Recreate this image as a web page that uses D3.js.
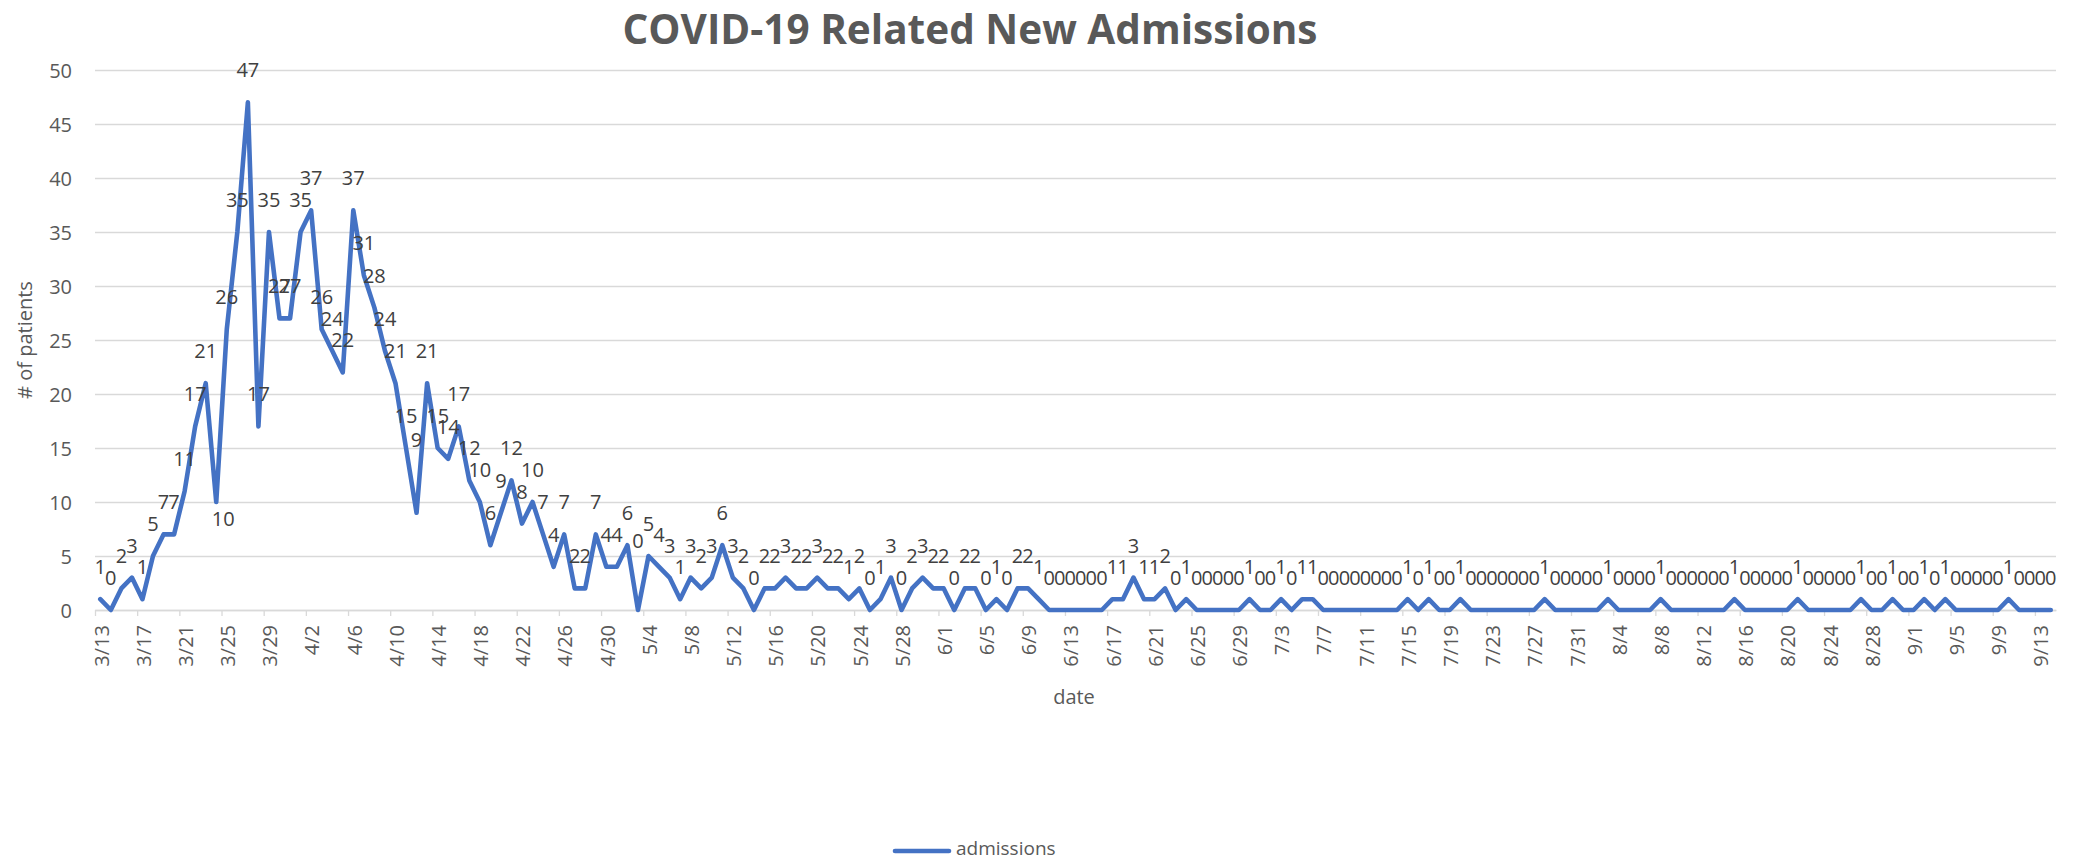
<!DOCTYPE html>
<html>
<head>
<meta charset="utf-8">
<script src="https://cdn.jsdelivr.net/npm/d3@7"></script>
<style>
body { margin: 0; background: #fff; }
text { font-family: "Open Sans", sans-serif; }
</style>
</head>
<body>
<div id="chart"></div>
<script>
// admissions per day, one array per month
const march = [1, 0, 2, 3, 1, 5, 7, 7, 11, 17, 21, 10, 26, 35, 47, 17, 35, 27, 27];
const april = [35, 37, 26, 24, 22, 37, 31, 28, 24, 21, 15, 9, 21, 15, 14, 17, 12, 10, 6, 9,
  12, 8, 10, 7, 4, 7, 2, 2, 7, 4];
const may = [4, 6, 0, 5, 4, 3, 1, 3, 2, 3, 6, 3, 2, 0, 2, 2, 3, 2, 2, 3,
  2, 2, 1, 2, 0, 1, 3, 0, 2, 3, 2];
const june = [2, 0, 2, 2, 0, 1, 0, 2, 2, 1, 0, 0, 0, 0, 0, 0, 1, 1, 3, 1,
  1, 2, 0, 1, 0, 0, 0, 0, 0, 1];
const july = [0, 0, 1, 0, 1, 1, 0, 0, 0, 0, 0, 0, 0, 0, 1, 0, 1, 0, 0, 1,
  0, 0, 0, 0, 0, 0, 0, 1, 0, 0, 0];
const august = [0, 0, 1, 0, 0, 0, 0, 1, 0, 0, 0, 0, 0, 0, 1, 0, 0, 0, 0, 0,
  1, 0, 0, 0, 0, 0, 1, 0, 0, 1, 0];
const september = [0, 1, 0, 1, 0, 0, 0, 0, 0, 1, 0, 0, 0, 0];

const firstDay = "2020-03-13";
const endDay = "2020-09-15"; // axis ends after the last day (9/14)

const tickLabels = ["3/13", "3/17", "3/21", "3/25", "3/29", "4/2", "4/6", "4/10", "4/14",
  "4/18", "4/22", "4/26", "4/30", "5/4", "5/8", "5/12", "5/16", "5/20", "5/24", "5/28",
  "6/1", "6/5", "6/9", "6/13", "6/17", "6/21", "6/25", "6/29", "7/3", "7/7", "7/11",
  "7/15", "7/19", "7/23", "7/27", "7/31", "8/4", "8/8", "8/12", "8/16", "8/20", "8/24",
  "8/28", "9/1", "9/5", "9/9", "9/13"];
const yTicks = [0, 5, 10, 15, 20, 25, 30, 35, 40, 45, 50];

const titleText = "COVID-19 Related New Admissions";
const xTitle = "date";
const yTitle = "# of patients";
const seriesName = "admissions";

/* **************************** */
// préparation des données
const parseDay = d3.timeParse("%Y-%m-%d");
const parseTick = d3.timeParse("%Y/%m/%d");
const fmtDay = d3.timeFormat("%-m/%-d");
const values = march.concat(april, may, june, july, august, september);
const days = d3.timeDay.range(parseDay(firstDay), parseDay(endDay));
const data = days.map((d, i) => ({ date: d, value: values[i] }));
const tickDates = tickLabels.map(t => parseTick("2020/" + t));

/* **************************** */
// dessin
const width = 2075, height = 861;
const plotLeft = 95, plotRight = 2056, plotTop = 70, plotBottom = 610;
const grey = "#595959", gridColor = "#d9d9d9", blue = "#4472C4";

// a few labels sit off their usual place in the original (dx, dy in px)
const labelNudge = { "3/24": [7, 49], "4/12": [0, -41], "5/3": [0, -37] };

const svg = d3.select("#chart").append("svg")
  .attr("width", width)
  .attr("height", height)
  .style("background", "#fff");

const x = d3.scaleTime()
  .domain([parseDay(firstDay), parseDay(endDay)])
  .range([plotLeft, plotRight]);
const y = d3.scaleLinear()
  .domain([0, 50])
  .range([plotBottom, plotTop]);

// middle of each day (points sit between the tick marks)
const mid = d => x(d3.timeHour.offset(d, 12));

// gridlines + y axis
const yAxis = svg.append("g")
  .attr("transform", `translate(${plotLeft},0)`)
  .call(d3.axisLeft(y).tickValues(yTicks).tickSize(-(plotRight - plotLeft)).tickSizeOuter(0));
yAxis.select(".domain").remove();
yAxis.selectAll("line").attr("stroke", gridColor).attr("stroke-width", 1.3);
yAxis.selectAll("text")
  .attr("x", -23)
  .attr("dy", "0.35em")
  .attr("fill", grey)
  .style("font-size", "20px");

// x axis
const xAxis = svg.append("g")
  .attr("transform", `translate(0,${plotBottom})`)
  .call(d3.axisBottom(x).tickValues(tickDates).tickSize(6).tickSizeOuter(0)
    .tickFormat((d, i) => tickLabels[i]));
xAxis.select(".domain").attr("stroke", gridColor).attr("stroke-width", 1.3);
xAxis.selectAll("line").attr("stroke", gridColor).attr("stroke-width", 1.3);
xAxis.selectAll("text")
  .attr("transform", "rotate(-90)")
  .attr("x", -15)
  .attr("y", 6)
  .attr("dy", "0.35em")
  .attr("text-anchor", "end")
  .attr("fill", grey)
  .style("font-size", "20px");

// ligne
const line = d3.line()
  .x(d => mid(d.date))
  .y(d => y(d.value));

svg.append("path")
  .datum(data)
  .attr("d", line)
  .attr("fill", "none")
  .attr("stroke", blue)
  .attr("stroke-width", 4.6)
  .attr("stroke-linejoin", "round")
  .attr("stroke-linecap", "round");

// étiquettes de données
const nudge = d => labelNudge[fmtDay(d.date)] || [0, 0];
svg.append("g")
  .selectAll("text")
  .data(data).enter()
  .append("text")
  .attr("x", d => mid(d.date) + nudge(d)[0])
  .attr("y", d => y(d.value) - 25 + nudge(d)[1])
  .attr("text-anchor", "middle")
  .attr("fill", "#404040")
  .style("font-size", "20px")
  .text(d => d.value);

// titres
const title = svg.append("text")
  .attr("x", 970)
  .attr("text-anchor", "middle")
  .attr("fill", grey)
  .style("font-weight", "bold")
  .style("font-size", "40px")
  .text(titleText);
const fs = 40 * 695 / title.node().getComputedTextLength();
title.style("font-size", fs + "px").attr("y", 30 + 0.357 * fs);

svg.append("text")
  .attr("x", 1074)
  .attr("y", 697)
  .attr("dy", "0.35em")
  .attr("text-anchor", "middle")
  .attr("fill", grey)
  .style("font-size", "20px")
  .text(xTitle);

svg.append("text")
  .attr("transform", `translate(25,${(plotTop + plotBottom) / 2}) rotate(-90)`)
  .attr("dy", "0.35em")
  .attr("text-anchor", "middle")
  .attr("fill", grey)
  .style("font-size", "20px")
  .text(yTitle);

// légende
svg.append("line")
  .attr("x1", 895).attr("x2", 949)
  .attr("y1", 851).attr("y2", 851)
  .attr("stroke", blue)
  .attr("stroke-width", 4.6)
  .attr("stroke-linecap", "round");
svg.append("text")
  .attr("x", 956)
  .attr("y", 855)
  .attr("fill", grey)
  .style("font-size", "19px")
  .text(seriesName);
</script>
</body>
</html>
